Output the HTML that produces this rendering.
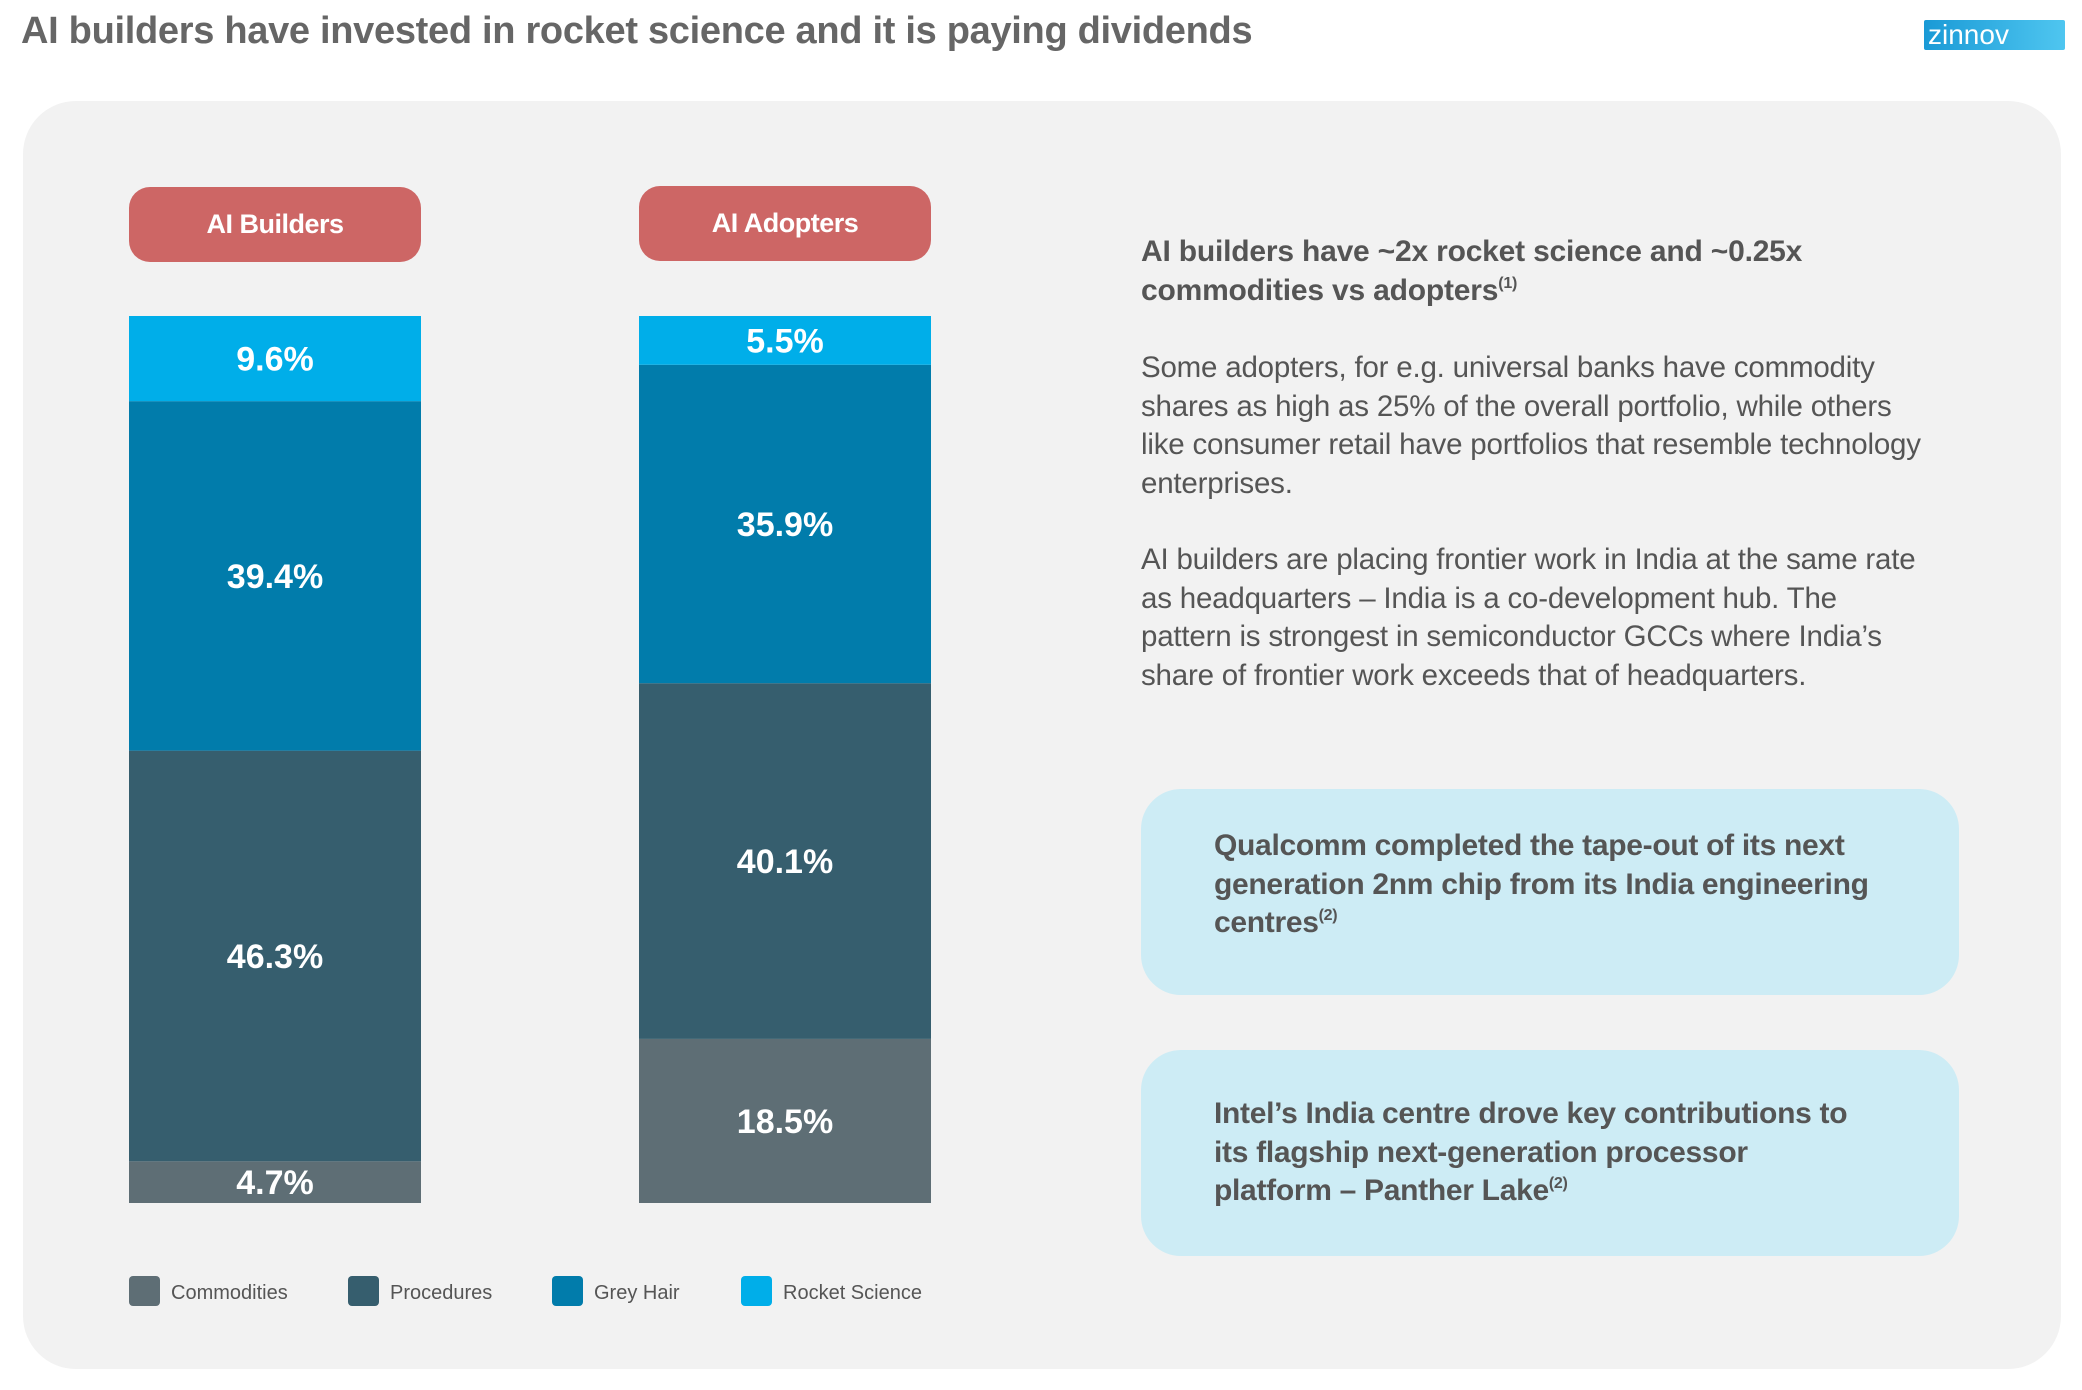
<!DOCTYPE html>
<html><head><meta charset="utf-8">
<style>
body{margin:0;width:2082px;height:1390px;background:#fff;font-family:"Liberation Sans",sans-serif;position:relative;overflow:hidden}
.abs{position:absolute}
#title{left:21px;top:10px;font-size:38px;font-weight:bold;color:#666;letter-spacing:-0.3px;white-space:nowrap}
#logo{left:1924px;top:20px;width:141px;height:30px;background:linear-gradient(90deg,#1a9ad6,#4fc6f0);color:#fff;font-size:28px;line-height:30px;padding-left:4px;box-sizing:border-box;border-radius:2px}
#panel{left:23px;top:101px;width:2038px;height:1268px;background:#f2f2f2;border-radius:53px}
.pill{top:187px;width:292px;height:75px;background:#cd6665;border-radius:21px;color:#fff;font-weight:bold;font-size:27px;display:flex;align-items:center;justify-content:center;letter-spacing:-0.5px}
.txt{left:1141px;color:#555;white-space:nowrap;letter-spacing:-0.2px}
#h{top:232px;font-size:30px;font-weight:bold;line-height:39px}
.p{font-size:29.5px;line-height:38.5px}
.box{left:1141px;width:818px;height:206px;background:#cdecf5;border-radius:40px}
.box div{position:absolute;left:73px;top:38px;font-size:30px;font-weight:bold;color:#555;line-height:38.5px;white-space:nowrap;letter-spacing:-0.3px}
sup{font-size:16px;vertical-align:12px;line-height:0}
</style></head><body>
<div id="title" class="abs">AI builders have invested in rocket science and it is paying dividends</div>
<div id="logo" class="abs">zinnov</div>
<div id="panel" class="abs"></div>
<div class="abs pill" style="left:129px">AI Builders</div>
<div class="abs pill" style="left:639px;top:186px">AI Adopters</div>
<svg class="abs" style="left:0;top:0" width="1100" height="1390" id="chart"></svg>
<div class="abs txt" id="h">AI builders have ~2x rocket science and ~0.25x<br>commodities vs adopters<sup>(1)</sup></div>
<div class="abs txt p" style="top:349px">Some adopters, for e.g. universal banks have commodity<br>shares as high as 25% of the overall portfolio, while others<br>like consumer retail have portfolios that resemble technology<br>enterprises.</div>
<div class="abs txt p" style="top:541px">AI builders are placing frontier work in India at the same rate<br>as headquarters – India is a co-development hub. The<br>pattern is strongest in semiconductor GCCs where India’s<br>share of frontier work exceeds that of headquarters.</div>
<div class="abs box" style="top:789px"><div>Qualcomm completed the tape-out of its next<br>generation 2nm chip from its India engineering<br>centres<sup>(2)</sup></div></div>
<div class="abs box" style="top:1050px"><div style="top:45px">Intel’s India centre drove key contributions to<br>its flagship next-generation processor<br>platform – Panther Lake<sup>(2)</sup></div></div>
<script>
const categories=["AI Builders","AI Adopters"];
const seriesNames=["Commodities","Procedures","Grey Hair","Rocket Science"];
const commodities=[4.7,18.5];
const procedures=[46.3,40.1];
const greyHair=[39.4,35.9];
const rocketScience=[9.6,5.5];
const colors=["#5e6e75","#365e6e","#017cab","#00aee9"];
const svg=document.getElementById('chart');
const NS="http://www.w3.org/2000/svg";
const barX=[129,639],barW=292,y0=1203,plotH=887;
function yScale(v){return y0-v/100*plotH;}
const series=[commodities,procedures,greyHair,rocketScience];
categories.forEach((c,i)=>{
  let acc=0;
  series.forEach((s,k)=>{
    const v=s[i];
    const r=document.createElementNS(NS,'rect');
    
    
    r.setAttribute('x',barX[i]);r.setAttribute('width',barW);
    r.setAttribute('y',yScale(acc+v));r.setAttribute('height',yScale(acc)-yScale(acc+v));
    r.setAttribute('fill',colors[k]);
    svg.appendChild(r);
    const t=document.createElementNS(NS,'text');
    
    
    t.setAttribute('x',barX[i]+barW/2);
    t.setAttribute('y',(yScale(acc)+yScale(acc+v))/2+12);
    t.setAttribute('text-anchor','middle');
    t.setAttribute('fill','#fff');
    t.setAttribute('font-size','34');t.setAttribute('font-weight','bold');
    t.setAttribute('font-family','Liberation Sans, sans-serif');
    t.textContent=v.toFixed(1)+'%';
    svg.appendChild(t);
    acc+=v;
  });
});
const legX=[129,348,552,741];
seriesNames.forEach((n,k)=>{
  const r=document.createElementNS(NS,'rect');
  
  
  r.setAttribute('x',legX[k]);r.setAttribute('y',1276);r.setAttribute('width',31);r.setAttribute('height',30);r.setAttribute('rx',4);
  r.setAttribute('fill',colors[k]);svg.appendChild(r);
  const t=document.createElementNS(NS,'text');
  
  
  t.setAttribute('x',legX[k]+42);t.setAttribute('y',1299);
  t.setAttribute('font-size','20');t.setAttribute('fill','#555');
  t.setAttribute('font-family','Liberation Sans, sans-serif');
  t.textContent=n;svg.appendChild(t);
});
</script>
</body></html>
